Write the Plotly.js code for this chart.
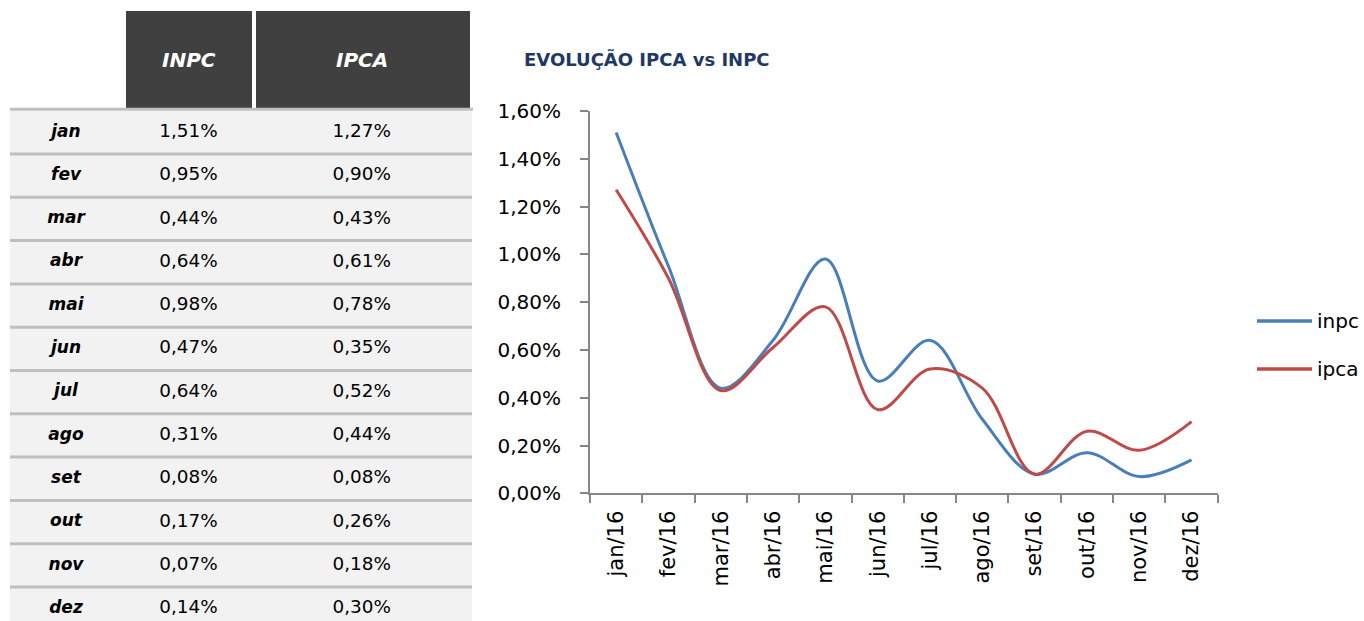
<!DOCTYPE html>
<html>
<head>
<meta charset="utf-8">
<script src="https://cdn.plot.ly/plotly-3.0.1.min.js"></script>
<style>
  html, body { margin: 0; padding: 0; background: #ffffff; overflow: hidden; }
  #chart { width: 1364px; height: 621px; }
</style>
</head>
<body>
<div id="chart"></div>
<script>
// ---- data ----
const months = ['jan', 'fev', 'mar', 'abr', 'mai', 'jun', 'jul', 'ago', 'set', 'out', 'nov', 'dez'];
const xTickLabels = ['jan/16', 'fev/16', 'mar/16', 'abr/16', 'mai/16', 'jun/16', 'jul/16', 'ago/16', 'set/16', 'out/16', 'nov/16', 'dez/16'];
const inpc = [1.51, 0.95, 0.44, 0.64, 0.98, 0.47, 0.64, 0.31, 0.08, 0.17, 0.07, 0.14];
const ipca = [1.27, 0.90, 0.43, 0.61, 0.78, 0.35, 0.52, 0.44, 0.08, 0.26, 0.18, 0.30];
const columnHeaders = ['INPC', 'IPCA'];
const seriesNames = ['inpc', 'ipca'];
const yTickVals = [0, 0.2, 0.4, 0.6, 0.8, 1.0, 1.2, 1.4, 1.6];
const chartTitle = 'EVOLUÇÃO IPCA vs INPC';

// ---- layout helpers ----
const W = 1364, H = 621;
const px = x => x / W;
const py = y => 1 - y / H;
const FONT = 'DejaVu Sans';
const BLUE = '#4a7ebb', RED = '#be4b48';
const COL_X = [66, 188.5, 361.7];          // table column centres (x2 units)
const fmt = v => v.toFixed(2).replace('.', ',') + '%';

const traces = [
  { name: seriesNames[0], x: xTickLabels, y: inpc, type: 'scatter', mode: 'lines',
    line: { color: BLUE, width: 3, shape: 'spline', smoothing: 1 }, xaxis: 'x', yaxis: 'y', hoverinfo: 'skip' },
  { name: seriesNames[1], x: xTickLabels, y: ipca, type: 'scatter', mode: 'lines',
    line: { color: RED, width: 3, shape: 'spline', smoothing: 1 }, xaxis: 'x', yaxis: 'y', hoverinfo: 'skip' },
  { x: months.map(() => COL_X[0]), y: months, text: months, type: 'scatter', mode: 'text',
    textfont: { family: FONT, size: 17, color: '#000', weight: 'bold', style: 'italic' },
    xaxis: 'x2', yaxis: 'y2', hoverinfo: 'skip', cliponaxis: false },
  { x: months.map(() => COL_X[1]), y: months, text: inpc.map(fmt), type: 'scatter', mode: 'text',
    textfont: { family: FONT, size: 18.4, color: '#000' },
    xaxis: 'x2', yaxis: 'y2', hoverinfo: 'skip', cliponaxis: false },
  { x: months.map(() => COL_X[2]), y: months, text: ipca.map(fmt), type: 'scatter', mode: 'text',
    textfont: { family: FONT, size: 18.4, color: '#000' },
    xaxis: 'x2', yaxis: 'y2', hoverinfo: 'skip', cliponaxis: false }
];

const shapes = [
  { type: 'rect', xref: 'paper', yref: 'paper', x0: px(10), x1: px(472), y0: 0, y1: py(110.7),
    fillcolor: '#f2f2f2', line: { width: 0 }, layer: 'below' },
  { type: 'rect', xref: 'paper', yref: 'paper', x0: px(126), x1: px(252), y0: py(108), y1: py(11),
    fillcolor: '#404040', line: { width: 0 }, layer: 'below' },
  { type: 'rect', xref: 'paper', yref: 'paper', x0: px(256), x1: px(470), y0: py(108), y1: py(11),
    fillcolor: '#404040', line: { width: 0 }, layer: 'below' },
  { type: 'line', xref: 'paper', yref: 'paper', x0: px(10), x1: px(473), y0: py(109.2), y1: py(109.2),
    line: { color: '#bfbfbf', width: 3 } }
];
for (let k = 0; k < months.length - 1; k++) {
  shapes.push({ type: 'line', xref: 'paper', yref: 'y2', x0: px(10), x1: px(472), y0: k + 0.5, y1: k + 0.5,
    line: { color: '#bfbfbf', width: 3 } });
}
const legendY = [321, 369];
const legendColors = [BLUE, RED];
const annotations = [];
seriesNames.forEach((n, i) => {
  shapes.push({ type: 'line', xref: 'paper', yref: 'paper', x0: px(1257), x1: px(1312), y0: py(legendY[i]), y1: py(legendY[i]),
    line: { color: legendColors[i], width: 3.5 } });
  annotations.push({ xref: 'paper', yref: 'paper', x: px(1315), y: py(legendY[i]), xanchor: 'left', yanchor: 'middle',
    text: n, showarrow: false, font: { family: FONT, size: 20, color: '#000' } });
});
columnHeaders.forEach((h, i) => {
  annotations.push({ xref: 'x2', yref: 'paper', x: COL_X[i + 1], y: py(60), xanchor: 'center', yanchor: 'middle',
    text: h, showarrow: false, font: { family: FONT, size: 20, color: '#ffffff', weight: 'bold', style: 'italic' } });
});

const layout = {
  width: W, height: H,
  margin: { l: 0, r: 0, t: 0, b: 0, pad: 0 },
  paper_bgcolor: '#ffffff', plot_bgcolor: 'rgba(0,0,0,0)',
  separators: ',.',
  showlegend: false,
  hovermode: false,
  font: { family: FONT, color: '#000' },
  title: { text: chartTitle, x: px(524), xanchor: 'left', y: py(60), yanchor: 'middle',
    font: { family: FONT, size: 18, color: '#1f3864', weight: 'bold' } },
  xaxis: {
    domain: [px(590), px(1217.7)], anchor: 'y', type: 'category', range: [-0.5, 11.5],
    showline: true, linecolor: '#868686', linewidth: 2, showgrid: false, zeroline: false,
    ticks: 'outside', tickson: 'boundaries', ticklen: 8, tickwidth: 2, tickcolor: '#868686',
    tickangle: -90, tickfont: { family: FONT, size: 21, color: '#000' }, ticklabelstandoff: 7,
    automargin: false, fixedrange: true
  },
  yaxis: {
    domain: [py(493.3), py(110.9)], anchor: 'x', range: [0, 1.6],
    tickmode: 'array', tickvals: yTickVals, ticktext: yTickVals.map(fmt),
    showline: true, linecolor: '#868686', linewidth: 2, showgrid: false, zeroline: false,
    ticks: 'outside', ticklen: 8, tickwidth: 2, tickcolor: '#868686',
    tickfont: { family: FONT, size: 20, color: '#000' }, ticklabelstandoff: 15,
    automargin: false, fixedrange: true
  },
  xaxis2: { domain: [px(10), px(472)], anchor: 'y2', range: [10, 472], visible: false, fixedrange: true },
  yaxis2: { domain: [0, py(110.7)], anchor: 'x2', type: 'category', categoryorder: 'array', categoryarray: months,
    range: [11.285, -0.5], visible: false, fixedrange: true },
  shapes: shapes,
  annotations: annotations
};

Plotly.newPlot('chart', traces, layout, { displayModeBar: false, staticPlot: true });
</script>
</body>
</html>
